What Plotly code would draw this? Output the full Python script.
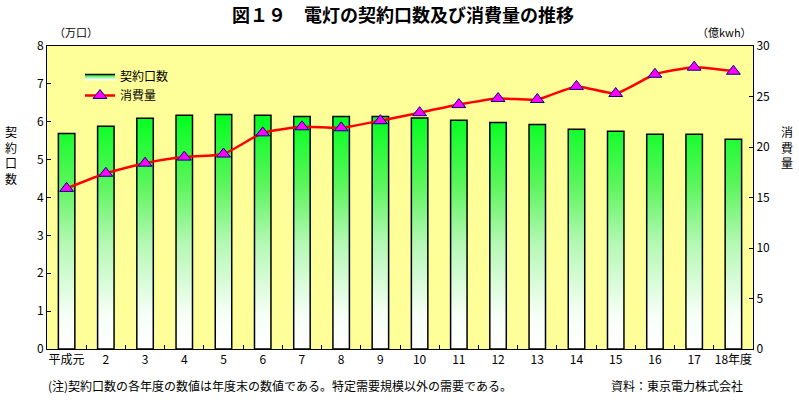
import plotly.graph_objects as go

years = ["平成元", "2", "3", "4", "5", "6", "7", "8", "9", "10",
         "11", "12", "13", "14", "15", "16", "17", "18年度"]
contracts = [5.69, 5.88, 6.09, 6.17, 6.19, 6.17, 6.14, 6.14, 6.14, 6.10,
             6.04, 5.98, 5.93, 5.80, 5.75, 5.67, 5.67, 5.54]
consumption = [15.9, 17.4, 18.4, 19.0, 19.3, 21.4, 22.0, 21.9, 22.6, 23.4,
               24.2, 24.8, 24.7, 26.0, 25.3, 27.2, 27.9, 27.5]

FONT = "Noto Sans CJK JP"
W, H = 799, 402
L, R, T, B = 47, 753, 46, 349  # plot area in pixels

def px(x):
    return (x - L) / (R - L)

def py(y):
    return (B - y) / (B - T)

half = 0.21
bx, by = [], []
for i, v in enumerate(contracts):
    bx += [i - half, i - half, i + half, i + half, i - half, None]
    by += [0, v, v, 0, 0, None]

fig = go.Figure()
fig.add_trace(go.Scatter(
    x=bx, y=by, mode="lines", fill="toself", name="契約口数",
    line=dict(color="black", width=1.5),
    fillgradient=dict(type="vertical",
                      colorscale=[[0, "#ffffff"], [0.15, "#f6fff6"],
                                  [0.45, "#b4f8b4"], [0.7, "#5cf55c"],
                                  [1, "#00ff1e"]]),
    hoverinfo="skip",
))
fig.add_trace(go.Scatter(
    x=list(range(len(years))), y=consumption, yaxis="y2", name="消費量",
    mode="lines+markers",
    line=dict(color="#ff0000", width=2.5, shape="spline", smoothing=0.5),
    marker=dict(symbol="triangle-up", size=12, color="#ff00ff",
                line=dict(color="#000080", width=1)),
))

fig.update_layout(
    width=W, height=H,
    margin=dict(l=L, r=W - R, t=T, b=H - B),
    paper_bgcolor="white", plot_bgcolor="#ffff99",
    font=dict(family=FONT, size=12, color="black"),
    showlegend=True,
    legend=dict(x=px(80), y=py(62), xanchor="left", yanchor="top",
                bgcolor="rgba(0,0,0,0)", font=dict(size=12),
                tracegroupgap=0, itemwidth=30),
    xaxis=dict(range=[-0.5, len(years) - 0.5], tickmode="array",
               tickvals=list(range(len(years))), ticktext=years,
               ticks="", showgrid=False, zeroline=False,
               showline=True, linecolor="black", linewidth=1, mirror=True,
               tickfont=dict(size=12),
               minor=dict(tickmode="array",
                          tickvals=[i + 0.5 for i in range(len(years) - 1)],
                          ticks="inside", ticklen=4, tickcolor="black",
                          showgrid=False)),
    yaxis=dict(range=[0, 8], dtick=1, ticks="inside", ticklen=4,
               tickcolor="black", showgrid=False, zeroline=False,
               showline=True, linecolor="black", linewidth=1,
               tickfont=dict(size=12)),
    yaxis2=dict(range=[0, 30], dtick=5, ticks="inside", ticklen=4,
                tickcolor="black", showgrid=False, zeroline=False,
                overlaying="y", side="right", showline=True,
                linecolor="black", linewidth=1, tickfont=dict(size=12)),
)

ann = [
    dict(text="<b>図１９　電灯の契約口数及び消費量の推移</b>", x=px(403), y=py(14),
         xanchor="center", yanchor="middle", font=dict(size=18)),
    dict(text="（万口）", x=px(52), y=py(32), xanchor="left", yanchor="middle",
         font=dict(size=11)),
    dict(text="（億kwh）", x=px(754), y=py(32), xanchor="right", yanchor="middle",
         font=dict(size=11)),
    dict(text="契<br>約<br>口<br>数", x=px(11), y=py(155), xanchor="center",
         yanchor="middle", font=dict(size=12)),
    dict(text="消<br>費<br>量", x=px(787), y=py(147), xanchor="center",
         yanchor="middle", font=dict(size=12)),
    dict(text="(注)契約口数の各年度の数値は年度末の数値である。特定需要規模以外の需要である。",
         x=px(46), y=py(385), xanchor="left", yanchor="middle", font=dict(size=12)),
    dict(text="資料：東京電力株式会社", x=px(609), y=py(385), xanchor="left",
         yanchor="middle", font=dict(size=12)),
]
for a in ann:
    a.update(xref="paper", yref="paper", showarrow=False)
    fig.add_annotation(**a)

fig.write_html("out.html", config={"displayModeBar": False},
               post_script="document.body.style.margin='0';document.body.style.padding='0';")
